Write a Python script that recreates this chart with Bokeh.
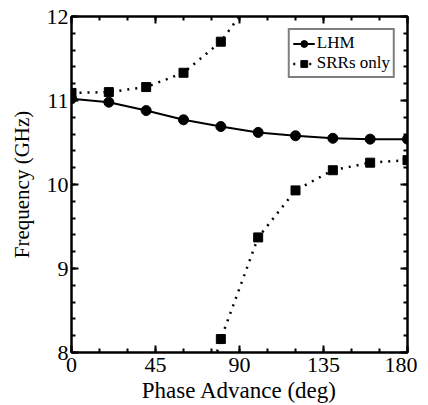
from bokeh.plotting import figure
from bokeh.models import LinearAxis, Range1d, FixedTicker, Legend, LegendItem, CustomJSTickFormatter
from bokeh.embed import file_html
from bokeh.resources import INLINE

# Data
phase = [0, 20, 40, 60, 80, 100, 120, 140, 160, 180]
lhm = [11.02, 10.98, 10.88, 10.77, 10.69, 10.62, 10.58, 10.55, 10.54, 10.54]
srr_upper_x = [0, 20, 40, 60, 80, 100]
srr_upper = [11.09, 11.10, 11.16, 11.33, 11.70, 12.31]
srr_lower_x = [60, 80, 100, 120, 140, 160, 180]
srr_lower = [6.64, 8.16, 9.37, 9.93, 10.17, 10.26, 10.29]
x_ticks = [0, 45, 90, 135, 180]
x_minor = list(range(0, 181, 15))
y_ticks = [8, 9, 10, 11, 12]
y_minor = [round(8 + 0.2 * i, 1) for i in range(21)]

FONT = "Liberation Serif"

p = figure(frame_width=336, frame_height=336, output_backend="svg", toolbar_location=None,
           x_range=Range1d(0, 180), y_range=Range1d(8, 12),
           min_border_left=71, min_border_right=10, min_border_top=16, min_border_bottom=8)
p.grid.visible = False
p.outline_line_color = "black"
p.outline_line_width = 2

def style_ticks(ax):
    ax.axis_line_width = 2
    ax.major_tick_in = 7
    ax.major_tick_out = 0
    ax.minor_tick_in = 4
    ax.minor_tick_out = 0
    ax.major_tick_line_width = 2
    ax.minor_tick_line_width = 2

for ax in [p.xaxis[0], p.yaxis[0]]:
    style_ticks(ax)
    ax.major_label_text_font = FONT
    ax.major_label_text_font_size = "22px"
    ax.major_label_text_color = "black"
    ax.axis_label_text_font = FONT
    ax.axis_label_text_font_style = "normal"
    ax.axis_label_text_color = "black"

p.xaxis[0].ticker = FixedTicker(ticks=x_ticks, minor_ticks=x_minor)
p.yaxis[0].ticker = FixedTicker(ticks=y_ticks, minor_ticks=y_minor)
p.xaxis[0].axis_label = "Phase Advance (deg)"
p.yaxis[0].axis_label = "Frequency (GHz)"
p.xaxis[0].axis_label_text_font_size = "23px"
p.yaxis[0].axis_label_text_font_size = "21px"
p.xaxis[0].major_label_standoff = 5
p.yaxis[0].major_label_standoff = 3
p.xaxis[0].axis_label_standoff = 3
p.yaxis[0].axis_label_standoff = 10

for loc, tick, minor in [("above", x_ticks, x_minor), ("right", y_ticks, y_minor)]:
    ax = LinearAxis(ticker=FixedTicker(ticks=tick, minor_ticks=minor),
                    formatter=CustomJSTickFormatter(code="return ''"))
    style_ticks(ax)
    ax.major_label_standoff = 0
    p.add_layout(ax, loc)

l1 = p.line(phase, lhm, line_color="black", line_width=2)
m1 = p.scatter(phase, lhm, marker="circle", size=10, color="black")
l2 = p.line(srr_upper_x, srr_upper, line_color="black", line_width=2.5, line_dash="2 6")
m2 = p.scatter(srr_upper_x, srr_upper, marker="square", size=9, color="black")
l3 = p.line(srr_lower_x, srr_lower, line_color="black", line_width=2.5, line_dash="2 6")
m3 = p.scatter(srr_lower_x, srr_lower, marker="square", size=9, color="black")

legend = Legend(items=[LegendItem(label="LHM", renderers=[l1, m1]),
                       LegendItem(label="SRRs only", renderers=[l2, m2])],
                location="top_right")
legend.label_text_font = FONT
legend.label_text_font_size = "17px"
legend.label_text_color = "black"
legend.border_line_color = "black"
legend.border_line_width = 2
legend.margin = 12
legend.padding = 3
legend.spacing = 0
legend.glyph_width = 22
legend.glyph_height = 17
legend.label_height = 17
legend.label_standoff = 2
legend.background_fill_alpha = 1
p.add_layout(legend, "center")

open("out.html", "w").write(file_html(p, INLINE))
